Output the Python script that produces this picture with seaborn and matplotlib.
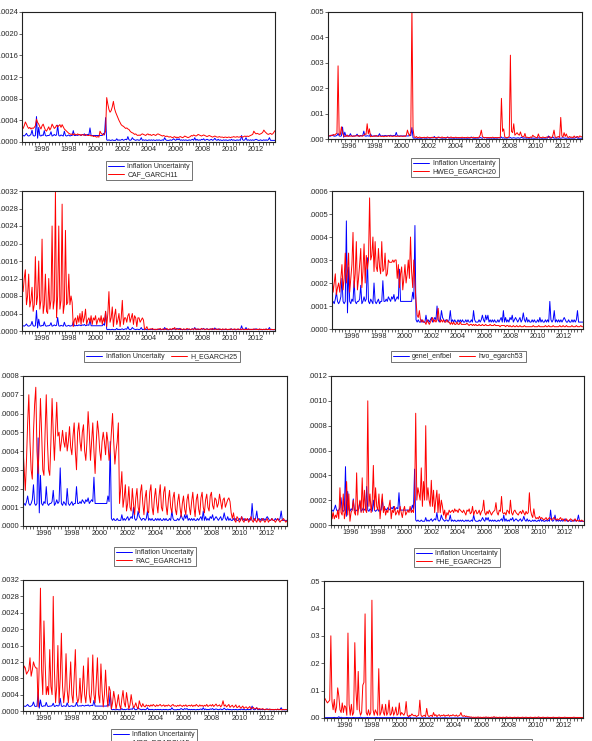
# EViews-style grid of variance series vs inflation uncertainty
import numpy as np
import pandas as pd
import matplotlib
matplotlib.use("Agg")
import matplotlib.pyplot as plt
import seaborn as sns
from matplotlib.ticker import FuncFormatter

# monthly data 1995M01 - 2013M12, one row per year, units of 1e-5
infl_unc = [
    12, 12, 11, 13, 16, 12, 11, 12, 14, 22, 12, 11,
    12, 47, 7, 27, 12, 11, 13, 12, 21, 12, 11, 12,
    12, 13, 19, 11, 12, 14, 12, 13, 31, 12, 11, 13,
    12, 11, 20, 12, 11, 12, 13, 11, 12, 12, 21, 12,
    12, 13, 12, 14, 13, 12, 14, 13, 15, 12, 13, 14,
    13, 26, 12, 12, 12, 12, 12, 12, 12, 12, 12, 12,
    12, 16, 13, 45, 4, 3, 4, 3, 3, 4, 3, 3,
    3, 6, 3, 4, 3, 4, 5, 3, 4, 5, 4, 10,
    4, 3, 4, 8, 5, 4, 3, 4, 4, 3, 4, 8,
    3, 4, 3, 4, 3, 3, 4, 3, 4, 3, 4, 3,
    3, 4, 3, 4, 3, 3, 4, 3, 8, 4, 3, 3,
    3, 4, 3, 4, 6, 4, 3, 6, 4, 6, 3, 4,
    3, 4, 3, 4, 3, 3, 4, 3, 4, 5, 3, 8,
    3, 5, 3, 4, 3, 5, 4, 6, 3, 4, 5, 4,
    3, 4, 5, 3, 4, 7, 4, 3, 5, 3, 4, 3,
    3, 4, 3, 4, 3, 3, 4, 3, 5, 3, 4, 3,
    3, 4, 3, 4, 3, 12, 4, 3, 4, 8, 3, 4,
    3, 4, 3, 4, 3, 4, 5, 4, 3, 3, 4, 3,
    3, 4, 3, 4, 3, 4, 8, 3, 3, 3, 3, 3,
]

caf_garch11 = [
    28, 25, 30, 37, 33, 28, 25, 27, 24, 26, 25, 27,
    30, 42, 36, 33, 28, 24, 30, 33, 27, 22, 20, 24,
    28, 22, 26, 33, 29, 25, 27, 31, 28, 30, 32, 27,
    32, 28, 24, 22, 20, 18, 16, 15, 14, 15, 13, 15,
    14, 13, 15, 13, 14, 12, 14, 13, 12, 14, 13, 12,
    12, 13, 11, 12, 10, 11, 10, 9, 10, 9, 20, 16,
    14, 13, 15, 20, 82, 70, 60, 55, 58, 65, 75, 62,
    55, 50, 45, 40, 36, 32, 30, 29, 27, 25, 26, 24,
    23, 20, 18, 17, 16, 14, 15, 13, 12, 13, 12, 14,
    15, 14, 13, 12, 14, 15, 13, 14, 12, 13, 14, 13,
    12, 14, 15, 14, 13, 12, 11, 12, 11, 10, 11, 10,
    9, 10, 9, 8, 9, 10, 8, 9, 8, 9, 10, 9,
    8, 9, 11, 10, 9, 8, 9, 10, 12, 11, 13, 12,
    11, 12, 14, 13, 12, 11, 12, 13, 12, 11, 10, 11,
    12, 11, 10, 9, 10, 11, 10, 9, 9, 10, 9, 9,
    9, 8, 9, 9, 8, 9, 9, 8, 9, 9, 10, 9,
    9, 10, 9, 9, 10, 10, 9, 10, 11, 10, 11, 10,
    11, 12, 13, 14, 20, 17, 15, 16, 15, 14, 15, 16,
    18, 22, 19, 17, 15, 14, 15, 16, 14, 15, 18, 21,
]

hweg_egarch20 = [
    10, 12, 14, 15, 13, 18, 15, 20, 22, 288, 15, 18,
    48, 25, 12, 10, 11, 16, 10, 12, 11, 13, 10, 12,
    11, 13, 12, 14, 10, 12, 13, 11, 15, 20, 18, 60,
    20, 40, 9, 11, 10, 12, 10, 14, 11, 10, 12, 11,
    10, 11, 9, 12, 10, 11, 13, 10, 12, 11, 10, 12,
    11, 10, 12, 11, 10, 12, 11, 10, 12, 10, 15, 35,
    20, 12, 30, 520, 40, 8, 6, 10, 5, 6, 8, 5,
    6, 5, 7, 5, 6, 8, 5, 6, 5, 7, 6, 5,
    6, 5, 7, 6, 5, 6, 8, 5, 6, 5, 6, 7,
    5, 6, 8, 5, 6, 5, 7, 6, 5, 6, 5, 6,
    7, 5, 6, 5, 6, 7, 5, 6, 5, 6, 7, 5,
    6, 5, 6, 7, 15, 35, 10, 6, 5, 6, 5, 6,
    5, 6, 5, 7, 6, 5, 6, 5, 6, 5, 7, 160,
    30, 40, 8, 6, 5, 7, 10, 330, 30, 25, 60, 15,
    20, 25, 18, 15, 28, 12, 10, 8, 22, 6, 7, 6,
    5, 8, 6, 15, 10, 8, 6, 5, 20, 7, 6, 5,
    8, 6, 5, 7, 8, 6, 10, 6, 5, 15, 35, 7,
    6, 8, 10, 6, 85, 12, 8, 25, 10, 20, 8, 6,
    10, 6, 8, 5, 12, 6, 8, 10, 6, 12, 10, 8,
]

h_egarch25 = [
    100, 90, 120, 140, 60, 80, 130, 55, 70, 100, 45, 60,
    170, 60, 80, 160, 50, 70, 210, 40, 60, 130, 45, 40,
    120, 50, 70, 240, 50, 70, 320, 30, 80, 240, 50, 70,
    290, 40, 60, 230, 60, 65, 130, 60, 80, 65, 10, 25,
    30, 15, 35, 20, 40, 15, 45, 20, 30, 50, 15, 25,
    30, 20, 35, 15, 30, 25, 35, 15, 25, 30, 20, 35,
    15, 30, 20, 45, 10, 40, 90, 20, 30, 55, 10, 35,
    50, 15, 25, 40, 10, 30, 70, 15, 30, 30, 20, 35,
    40, 20, 30, 40, 15, 35, 30, 10, 30, 30, 20, 25,
    30, 25, 3, 5, 10, 4, 3, 5, 4, 6, 3, 4,
    4, 3, 5, 4, 6, 3, 4, 5, 3, 4, 6, 3,
    4, 5, 3, 6, 4, 8, 3, 5, 4, 3, 6, 4,
    3, 5, 4, 3, 6, 4, 5, 3, 4, 5, 3, 6,
    4, 3, 5, 4, 3, 6, 4, 5, 3, 4, 5, 3,
    4, 5, 3, 6, 4, 3, 5, 4, 3, 5, 4, 3,
    5, 3, 4, 5, 3, 4, 3, 5, 4, 3, 4, 5,
    3, 4, 5, 3, 4, 3, 5, 4, 3, 4, 3, 5,
    4, 3, 4, 3, 5, 4, 3, 4, 3, 5, 3, 4,
    3, 4, 3, 5, 3, 4, 3, 3, 4, 3, 3, 4,
]

hvo_egarch53 = [
    24, 16, 20, 24, 15, 18, 20, 16, 22, 28, 17, 22,
    33, 20, 25, 33, 16, 22, 28, 42, 18, 24, 38, 17,
    22, 28, 35, 18, 25, 37, 20, 32, 26, 30, 57, 30,
    32, 40, 25, 38, 27, 25, 35, 27, 24, 38, 25, 26,
    33, 23, 24, 30, 29, 29, 29, 30, 29, 30, 30, 22,
    28, 18, 24, 27, 17, 22, 28, 20, 24, 30, 22, 40,
    25, 18, 30, 20, 12, 6, 5, 8, 4, 3, 4, 3,
    3, 2, 4, 3, 2, 3, 4, 5, 3, 4, 3, 4,
    9, 4, 3, 4, 3, 4, 3, 3, 4, 3, 3, 2,
    3, 2, 3, 2, 2, 3, 2, 2, 3, 2, 2, 2,
    2, 2, 2.5, 2, 1.5, 2, 2, 1.5, 2, 1.5, 2, 1.5,
    1.5, 2, 1.5, 1.5, 2, 1.5, 1.5, 2, 1.5, 1.5, 1.5, 2,
    1.5, 1.5, 1.5, 2, 1.5, 1.5, 1.5, 1.5, 1, 1.5, 1.5, 1.5,
    1.5, 1, 1.5, 1.5, 1, 1.5, 1, 1, 1.5, 1, 1, 1.5,
    1, 1, 1.5, 1, 1, 1, 1.5, 1, 1, 1, 1, 1,
    1, 1, 1.5, 1, 1, 1, 1, 1.5, 1, 1, 1, 1,
    1, 1.5, 1, 1, 1.5, 1, 1, 1, 1.5, 1, 1, 1,
    1, 1, 1.5, 1, 1, 1.5, 1, 1, 1.5, 1, 1, 1,
    1, 1.5, 1, 1, 1, 1.5, 1, 1, 1, 1.5, 1, 1,
]

rac_egarch15 = [
    42, 30, 19, 35, 55, 70, 45, 30, 25, 50, 65, 74,
    40, 28, 45, 68, 50, 30, 27, 50, 70, 45, 30, 27,
    45, 68, 50, 35, 50, 66, 48, 50, 40, 45, 51, 45,
    42, 50, 40, 45, 53, 42, 38, 48, 55, 40, 30, 50,
    55, 45, 40, 50, 54, 40, 35, 45, 61, 50, 35, 45,
    55, 40, 28, 45, 56, 50, 40, 35, 45, 50, 45, 38,
    50, 45, 35, 40, 50, 60, 45, 33, 40, 45, 55, 12,
    20, 29, 10, 15, 22, 8, 12, 21, 10, 8, 20, 12,
    6, 15, 20, 10, 7, 18, 22, 12, 6, 15, 19, 8,
    7, 18, 22, 10, 6, 15, 20, 12, 7, 16, 22, 10,
    8, 18, 21, 11, 6, 14, 19, 10, 7, 15, 18, 9,
    6, 13, 17, 10, 5, 12, 16, 9, 6, 14, 17, 10,
    6, 13, 18, 10, 5, 14, 17, 9, 6, 15, 18, 10,
    7, 14, 17, 10, 8, 16, 18, 11, 9, 15, 14, 10,
    12, 17, 13, 9, 14, 15, 10, 12, 14, 15, 13, 7,
    4, 7, 3, 2, 5, 4, 2, 3, 5, 3, 2, 4,
    3, 4, 2, 3, 5, 3, 2, 4, 3, 2, 4, 3,
    2, 3, 4, 3, 2, 3, 4, 2, 3, 3, 4, 3,
    3, 2, 3, 4, 3, 2, 3, 3, 4, 3, 2, 3,
]

fhe_egarch25 = [
    18, 5, 10, 5, 8, 6, 12, 5, 30, 10, 8, 25,
    5, 10, 35, 8, 25, 3, 10, 12, 20, 10, 8, 42,
    8, 15, 20, 10, 38, 10, 28, 12, 10, 100, 15, 25,
    10, 20, 48, 12, 30, 15, 12, 25, 5, 15, 25, 10,
    15, 8, 12, 10, 15, 20, 5, 12, 10, 15, 8, 10,
    12, 8, 15, 10, 6, 12, 15, 8, 10, 12, 10, 15,
    10, 12, 10, 20, 90, 20, 30, 25, 20, 46, 15, 35,
    20, 80, 20, 30, 20, 15, 36, 15, 28, 10, 20, 28,
    10, 25, 10, 20, 15, 8, 12, 5, 10, 8, 12, 10,
    11, 12, 10, 13, 11, 12, 10, 13, 12, 11, 10, 12,
    10, 8, 12, 11, 13, 9, 10, 15, 8, 11, 12, 9,
    10, 12, 8, 11, 12, 20, 10, 8, 11, 9, 12, 10,
    8, 10, 11, 12, 18, 10, 8, 12, 11, 23, 10, 9,
    10, 8, 12, 11, 9, 20, 10, 8, 11, 12, 10, 9,
    8, 10, 11, 9, 12, 10, 8, 11, 9, 10, 26, 12,
    8, 6, 13, 7, 5, 6, 5, 7, 5, 6, 5, 4,
    5, 6, 4, 5, 6, 5, 4, 5, 6, 5, 4, 5,
    4, 5, 6, 4, 5, 4, 3, 5, 4, 3, 4, 5,
    4, 3, 4, 5, 3, 4, 3, 4, 3, 4, 3, 3,
]

mcs_egarch15 = [
    90, 110, 105, 90, 95, 100, 130, 85, 100, 120, 110, 105,
    105, 10, 120, 300, 100, 40, 220, 120, 40, 60, 40, 150,
    60, 40, 280, 100, 20, 60, 160, 20, 80, 190, 60, 20,
    50, 140, 50, 20, 60, 120, 40, 20, 80, 150, 40, 20,
    30, 80, 20, 50, 110, 40, 20, 60, 130, 40, 20, 50,
    137, 40, 20, 70, 130, 40, 20, 115, 50, 10, 40, 100,
    40, 10, 60, 50, 5, 20, 48, 30, 5, 20, 40, 15,
    5, 30, 50, 20, 10, 45, 25, 5, 15, 40, 20, 8,
    12, 20, 10, 5, 25, 15, 10, 18, 12, 10, 15, 12,
    14, 11, 15, 12, 16, 13, 11, 15, 12, 14, 16, 12,
    13, 15, 11, 14, 12, 15, 13, 11, 14, 16, 12, 13,
    11, 14, 12, 15, 13, 11, 14, 12, 15, 11, 13, 14,
    12, 15, 11, 14, 12, 16, 13, 11, 15, 12, 14, 11,
    14, 12, 16, 11, 13, 15, 12, 16, 11, 14, 17, 12,
    13, 15, 10, 14, 25, 12, 15, 10, 13, 16, 9, 12,
    14, 9, 11, 15, 8, 10, 13, 7, 9, 12, 6, 9,
    10, 6, 8, 11, 5, 7, 9, 5, 6, 8, 4, 6,
    5, 4, 6, 4, 3, 5, 4, 3, 5, 4, 3, 4,
    3, 4, 3, 5, 3, 4, 3, 3, 4, 3, 4, 3,
]

# last panel, units of 1e-4
p_egarch11 = [
    75, 70, 62, 55, 60, 65, 300, 60, 30, 68, 20, 40,
    110, 80, 30, 20, 55, 20, 45, 40, 10, 310, 50, 10,
    50, 10, 20, 275, 100, 30, 170, 30, 10, 20, 120, 130,
    380, 20, 10, 30, 10, 20, 430, 30, 10, 30, 20, 10,
    180, 10, 20, 50, 20, 10, 50, 10, 20, 65, 10, 15,
    40, 10, 20, 40, 10, 15, 55, 10, 20, 15, 10, 20,
    60, 10, 5, 10, 8, 15, 10, 8, 10, 5, 8, 10,
    65, 10, 5, 8, 10, 5, 35, 10, 5, 8, 10, 5,
    20, 8, 12, 5, 10, 12, 6, 10, 8, 12, 6, 10,
    8, 12, 6, 10, 8, 12, 9, 7, 11, 6, 8, 10,
    20, 8, 6, 9, 5, 7, 4, 5, 3, 4, 2, 3,
    2, 3, 2, 4, 2, 3, 2, 2, 3, 2, 4, 2,
    3, 2, 2, 3, 2, 5, 2, 3, 2, 2, 3, 2,
    2, 3, 2, 2, 4, 2, 2, 3, 2, 2, 2, 3,
    2, 2, 3, 2, 2, 2, 3, 2, 2, 3, 2, 2,
    2, 3, 2, 2, 2, 3, 2, 2, 4, 2, 2, 2,
    3, 2, 2, 2, 3, 2, 2, 2, 2, 3, 2, 2,
    2, 2, 3, 2, 2, 2, 2, 3, 2, 2, 2, 2,
    2, 2, 2, 3, 2, 2, 2, 2, 2, 2, 2, 2,
]

year_labels = ["1996", "1998", "2000", "2002", "2004", "2006", "2008", "2010", "2012"]

W, H = 592, 741
sns.set_style("ticks")
plt.rcParams['font.family'] = ['Liberation Sans', 'DejaVu Sans']

dates = pd.date_range("1995-01-01", periods=len(infl_unc), freq="MS")
xs = np.asarray(dates.year + (dates.month - 1) / 12.0)

fig = plt.figure(figsize=(W / 100, H / 100), dpi=100)


def add_panel(box, leg_at, blue, red, labels, ymax, ystep, dec, scale=1e-5, ncol=1):
    x0, y0, x1, y1 = box
    ax = fig.add_axes([x0 / W, 1 - y1 / H, (x1 - x0) / W, (y1 - y0) / H])
    sns.lineplot(x=xs, y=np.array(blue) * 1e-5, ax=ax, color="#0000ff", lw=0.7, label=labels[0])
    sns.lineplot(x=xs, y=np.array(red) * scale, ax=ax, color="#ff0000", lw=0.7, label=labels[1])
    ax.set_xlim(xs[0], xs[-1])
    ax.set_ylim(0, ymax)
    ax.set_yticks(np.arange(0, ymax + ystep / 2, ystep))
    ax.yaxis.set_major_formatter(FuncFormatter(lambda v, p: f"{v:.{dec}f}".lstrip("0")))
    ax.set_xticks([int(s) + 0.5 for s in year_labels])
    ax.set_xticklabels(year_labels)
    ax.set_xticks(np.arange(1995, 2014, 0.25), minor=True)
    ax.tick_params(axis="x", which="major", length=0, pad=3, labelsize=5.2)
    ax.tick_params(axis="x", which="minor", length=2, width=0.5, direction="out")
    ax.tick_params(axis="y", length=2, width=0.5, pad=1, labelsize=5.5)
    for s in ax.spines.values():
        s.set_linewidth(0.8)
        s.set_color("#222222")
    ax.set_xlabel("")
    ax.set_ylabel("")
    cx, top = leg_at
    leg = ax.legend(loc="upper center", bbox_to_anchor=(cx / W, 1 - top / H),
                    bbox_transform=fig.transFigure, ncol=ncol, fontsize=5,
                    frameon=True, fancybox=False, edgecolor="#333333",
                    borderpad=0.3, handlelength=2.3, handletextpad=0.5,
                    labelspacing=0.15, columnspacing=1.0, borderaxespad=0)
    leg.get_frame().set_linewidth(0.6)
    return ax


add_panel((22, 12, 275, 142), (149, 161), infl_unc, caf_garch11,
          ["Inflation Uncertainty", "CAF_GARCH11"], 0.0024, 0.0004, 4)
add_panel((328, 12, 582, 139), (455, 158), infl_unc, hweg_egarch20,
          ["Inflation Uncertainty", "HWEG_EGARCH20"], 0.005, 0.001, 3)
add_panel((22, 191, 275, 331), (162, 351), infl_unc, h_egarch25,
          ["Inflation Uncertaity", "H_EGARCH25"], 0.0032, 0.0004, 4, ncol=2)
add_panel((332, 191, 583, 329), (458, 351), infl_unc, hvo_egarch53,
          ["genel_enfbel", "hvo_egarch53"], 0.0006, 0.0001, 4, ncol=2)
add_panel((23, 376, 287, 526), (155, 547), infl_unc, rac_egarch15,
          ["Inflation Uncertaity", "RAC_EGARCH15"], 0.0008, 0.0001, 4)
add_panel((331, 376, 584, 525), (457, 548), infl_unc, fhe_egarch25,
          ["Inflation Uncertainty", "FHE_EGARCH25"], 0.0012, 0.0002, 4)
add_panel((23, 580, 287, 711), (154, 729), infl_unc, mcs_egarch15,
          ["Inflation Uncertainty", "MCS_EGARCH15"], 0.0032, 0.0004, 4)
add_panel((324, 581, 583, 718), (453, 739), infl_unc, p_egarch11,
          ["Inflation Uncertainty", "P_EGARCH11"], 0.05, 0.01, 2, scale=1e-4, ncol=2)

fig.savefig("out.png", dpi=100)
